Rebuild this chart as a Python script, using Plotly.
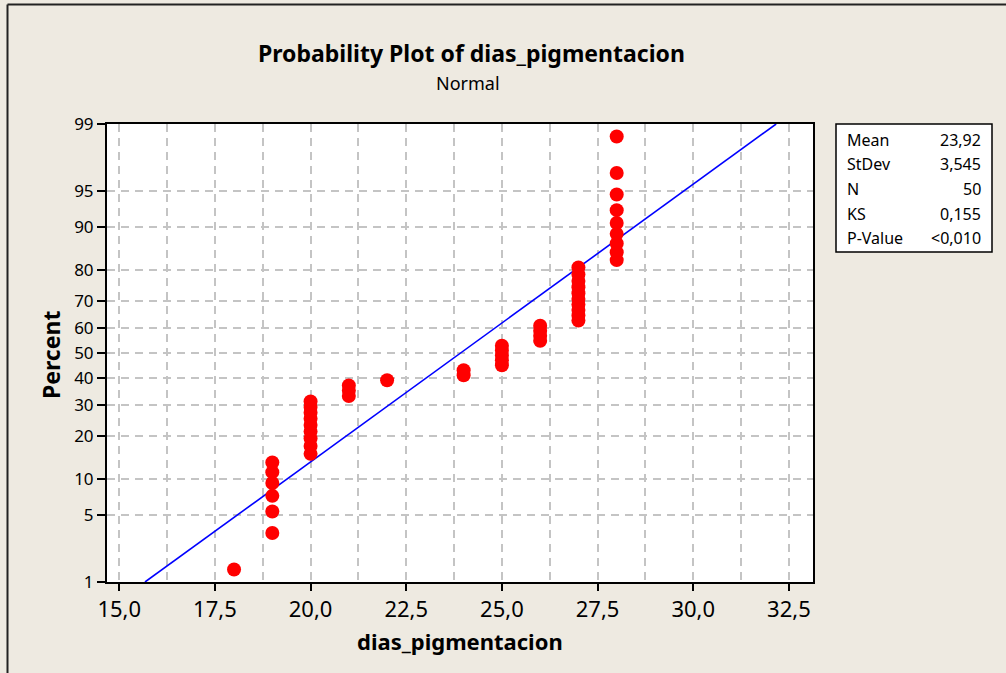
import plotly.graph_objects as go
from statistics import NormalDist

# ---------------- data ----------------
dias = [18,
        19, 19, 19, 19, 19, 19,
        20, 20, 20, 20, 20, 20, 20, 20, 20,
        21, 21, 21,
        22,
        24, 24,
        25, 25, 25, 25, 25,
        26, 26, 26, 26,
        27, 27, 27, 27, 27, 27, 27, 27, 27, 27,
        28, 28, 28, 28, 28, 28, 28, 28, 28]
percent = [1.39,
           3.37, 5.36, 7.34, 9.33, 11.31, 13.29,
           15.28, 17.26, 19.25, 21.23, 23.21, 25.20, 27.18, 29.17, 31.15,
           33.13, 35.12, 37.10,
           39.09,
           41.07, 43.06,
           45.04, 47.02, 49.01, 50.99, 52.98,
           54.96, 56.94, 58.93, 60.91,
           62.90, 64.88, 66.87, 68.85, 70.83, 72.82, 74.80, 76.79, 78.77, 80.75,
           82.74, 84.72, 86.71, 88.69, 90.67, 92.66, 94.64, 96.63, 98.61]
fit_x = [15.673, 32.167]
fit_percent = [1, 99]
y_ticks = [1, 5, 10, 20, 30, 40, 50, 60, 70, 80, 90, 95, 99]
x_ticks = [15.0, 17.5, 20.0, 22.5, 25.0, 27.5, 30.0, 32.5]
x_ticklabels = ["15,0", "17,5", "20,0", "22,5", "25,0", "27,5", "30,0", "32,5"]
stat_names = ["Mean", "StDev", "N", "KS", "P-Value"]
stat_values = ["23,92", "3,545", "50", "0,155", "<0,010"]

nd = NormalDist()
def z(p):
    return nd.inv_cdf(p / 100.0)

# ---------------- layout geometry (pixels) ----------------
W, H = 1006, 673
L, R, T, B = 107, 813, 124, 582
def px(x):
    return (x - L) / (R - L)
def py(y):
    return (B - y) / (B - T)

FONT = "Noto Sans"
BG = "#EEEAE1"
GRID = "#C4C4C4"

fig = go.Figure()
fig.add_trace(go.Scatter(
    x=fit_x, y=[z(p) for p in fit_percent], mode="lines",
    line=dict(color="#0000FF", width=1.6), hoverinfo="skip", showlegend=False))
fig.add_trace(go.Scatter(
    x=dias, y=[z(p) for p in percent], mode="markers",
    marker=dict(color="#FF0000", size=14, line=dict(width=0)),
    showlegend=False))

fig.update_layout(
    width=W, height=H,
    margin=dict(l=L, r=W - R, t=T, b=H - B, pad=0),
    paper_bgcolor=BG, plot_bgcolor="white",
    font=dict(family=FONT, color="black"),
    showlegend=False,
)
fig.update_xaxes(
    range=[14.68, 33.13],
    tickvals=x_ticks, ticktext=x_ticklabels,
    tickfont=dict(size=22, family=FONT),
    ticks="outside", ticklen=7, tickwidth=1.5, tickcolor="black",
    showline=True, linecolor="black", linewidth=2, mirror=True,
    showgrid=True, gridcolor=GRID, gridwidth=1.5, griddash="8px,6px",
    minor=dict(dtick=1.25, tick0=15, showgrid=True, gridcolor=GRID,
               gridwidth=1.5, griddash="8px,6px", ticks=""),
    zeroline=False,
)
fig.update_yaxes(
    range=[z(1), z(99)],
    tickvals=[z(p) for p in y_ticks], ticktext=[str(p) for p in y_ticks],
    tickfont=dict(size=17, family=FONT),
    ticks="outside", ticklen=8, tickwidth=1.5, tickcolor="black",
    showline=True, linecolor="black", linewidth=2, mirror=True,
    showgrid=True, gridcolor=GRID, gridwidth=1.5, griddash="8px,6px",
    zeroline=False,
)

ann = []
ann.append(dict(text="<b>Probability Plot of dias_pigmentacion</b>", x=px(471), y=py(53),
                xref="paper", yref="paper", xanchor="center", yanchor="middle",
                showarrow=False, font=dict(size=23, family=FONT)))
ann.append(dict(text="Normal", x=px(468), y=py(83),
                xref="paper", yref="paper", xanchor="center", yanchor="middle",
                showarrow=False, font=dict(size=18, family=FONT)))
ann.append(dict(text="<b>dias_pigmentacion</b>", x=px(460), y=py(641),
                xref="paper", yref="paper", xanchor="center", yanchor="middle",
                showarrow=False, font=dict(size=22, family=FONT)))
ann.append(dict(text="<b>Percent</b>", x=px(51), y=py(355), textangle=-90,
                xref="paper", yref="paper", xanchor="center", yanchor="middle",
                showarrow=False, font=dict(size=23, family=FONT)))
row_y = [139.5, 164.2, 188.9, 213.6, 238.3]
for name, val, yy in zip(stat_names, stat_values, row_y):
    ann.append(dict(text=name, x=px(845), y=py(yy), xref="paper", yref="paper",
                    xanchor="left", yanchor="middle", showarrow=False,
                    font=dict(size=16, family=FONT)))
    ann.append(dict(text=val, x=px(983), y=py(yy), xref="paper", yref="paper",
                    xanchor="right", yanchor="middle", showarrow=False,
                    font=dict(size=16, family=FONT)))
fig.update_layout(annotations=ann)

shapes = [
    dict(type="rect", xref="paper", yref="paper", x0=px(836), x1=px(992),
         y0=py(124), y1=py(252), fillcolor="white", line=dict(color="black", width=1.5)),
    dict(type="line", xref="paper", yref="paper", x0=px(7.5), x1=px(1010),
         y0=py(4.5), y1=py(4.5), line=dict(color="#222222", width=2)),
    dict(type="line", xref="paper", yref="paper", x0=px(7.5), x1=px(7.5),
         y0=py(4.5), y1=py(680), line=dict(color="#222222", width=2)),
]
fig.update_layout(shapes=shapes)

fig.write_html("out.html")
